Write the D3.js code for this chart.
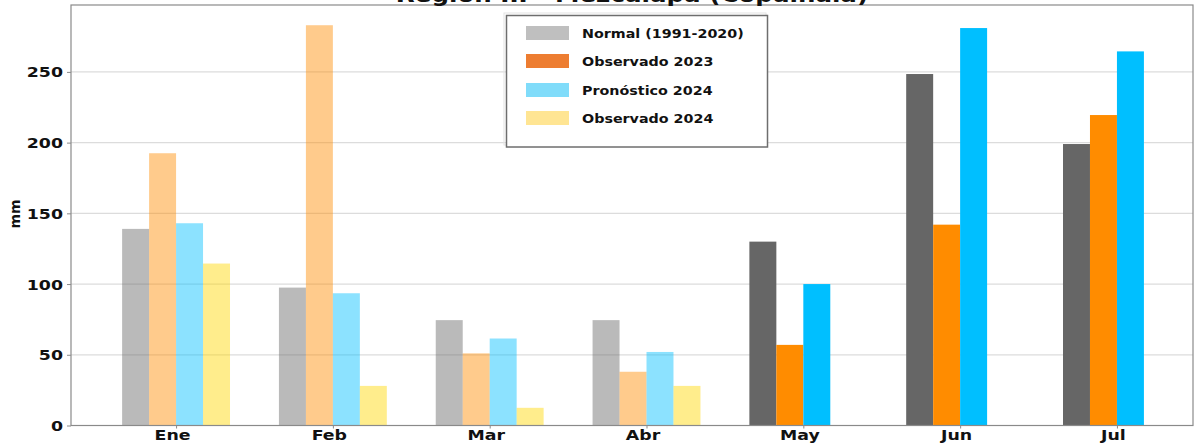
<!DOCTYPE html>
<html><head><meta charset="utf-8">
<script src="https://cdn.jsdelivr.net/npm/d3@7"></script>
<style>body{margin:0;background:#fff}svg{display:block}text{font-family:"DejaVu Sans";font-weight:bold;fill:#111}</style>
</head><body><svg id="c" width="1199" height="445"></svg>
<script>
const months=["Ene","Feb","Mar","Abr","May","Jun","Jul"];
const seriesNames=["Normal (1991-2020)","Observado 2023","Pronóstico 2024","Observado 2024"];
const normal=[139,97.5,74.5,74.5,130,248.5,199];
const obs2023=[192.5,283,51,38,57,142,219.5];
const pron2024=[143,93.5,61.5,52,100,281,264.5];
const obs2024=[114.5,28,12.5,28,null,null,null];
const fadedMonths=["Ene","Feb","Mar","Abr"];
const yTicks=[0,50,100,150,200,250];
const title="Región III - Mezcalapa (Copainalá)";
const yLabel="mm";

const series=[normal,obs2023,pron2024,obs2024];
const barColors=["#666666","#ff8c00","#00bfff","#ffd700"];
const legendColors=["#bfbfbf","#ed7d31","#80dcfa","#ffe593"];

const svg=d3.select("#c");
const L=71,R=1193,T=5,B=425.5;
const x=d3.scaleLinear().domain([-0.67,6.485]).range([L,R]);
const y=d3.scaleLinear().domain([0,297.3]).range([B,T]);
const bw=0.172;
const SX=1.24;

// gridlines
svg.append("g").selectAll("line").data(yTicks.slice(1)).join("line")
  .attr("x1",L).attr("x2",R).attr("y1",d=>y(d)).attr("y2",d=>y(d))
  .attr("stroke","#dcdcdc").attr("stroke-width",1.2);

// bars
const bars=[];
series.forEach((s,k)=>s.forEach((v,i)=>{ if(v!=null) bars.push({k,i,v}); }));
svg.append("g").selectAll("rect").data(bars).join("rect")
  .attr("x",d=>x(d.i+(d.k-1.5)*bw-bw/2))
  .attr("width",d=>x(d.i+(d.k-1.5)*bw+bw/2)-x(d.i+(d.k-1.5)*bw-bw/2))
  .attr("y",d=>y(d.v)).attr("height",d=>y(0)-y(d.v))
  .attr("fill",d=>barColors[d.k])
  .attr("fill-opacity",d=>fadedMonths.includes(months[d.i])?0.45:1);

// frame
svg.append("rect").attr("x",L).attr("y",T).attr("width",R-L).attr("height",B-T)
  .attr("fill","none").attr("stroke","#8a8a8a").attr("stroke-width",1.2);

// y axis
const ya=svg.append("g").attr("transform",`translate(${L},0)`)
  .call(d3.axisLeft(y).tickValues(yTicks).tickSize(4).tickPadding(4));
ya.select(".domain").remove();
ya.selectAll("line").attr("stroke","#8a8a8a");
ya.selectAll("text").attr("font-size",14).attr("font-family","DejaVu Sans").attr("font-weight","bold")
  .attr("fill","#111").attr("x",-8/SX).attr("transform",`scale(${SX},1)`).attr("dy","0.36em");

// x axis
const xa=svg.append("g").attr("transform",`translate(0,${B})`)
  .call(d3.axisBottom(x).tickValues(d3.range(months.length)).tickFormat(i=>months[i]).tickSize(3).tickPadding(3));
xa.select(".domain").remove();
xa.selectAll("line").attr("stroke","#8a8a8a");
xa.selectAll("text").attr("font-size",14).attr("font-family","DejaVu Sans").attr("font-weight","bold")
  .attr("fill","#111").attr("x",-4/SX).attr("y",4.5).attr("transform",`scale(${SX},1)`);

// y label
svg.append("text").attr("transform","translate(20,214) rotate(-90)")
  .attr("text-anchor","middle").attr("font-size",14).text(yLabel);

// title
svg.append("text").attr("transform",`translate(${(L+R)/2},1.5) scale(1.17,1)`)
  .attr("text-anchor","middle").attr("font-size",21).text(title);

// legend
const lg=svg.append("g");
lg.append("rect").attr("x",504).attr("y",13).attr("width",262).attr("height",132)
  .attr("fill","none").attr("stroke","#e4e4e4").attr("stroke-width",1);
lg.append("rect").attr("x",506.5).attr("y",15.5).attr("width",261).attr("height",131.5)
  .attr("fill","#fff").attr("stroke","#6e6e6e").attr("stroke-width",1.5);
const ly=[33,61,90,118];
seriesNames.forEach((n,k)=>{
  lg.append("rect").attr("x",526).attr("y",ly[k]-7).attr("width",43).attr("height",14).attr("fill",legendColors[k]);
  lg.append("text").attr("transform",`translate(582,${ly[k]}) scale(1.1,1)`)
    .attr("dy","0.35em").attr("font-size",13).text(n);
});
</script></body></html>
